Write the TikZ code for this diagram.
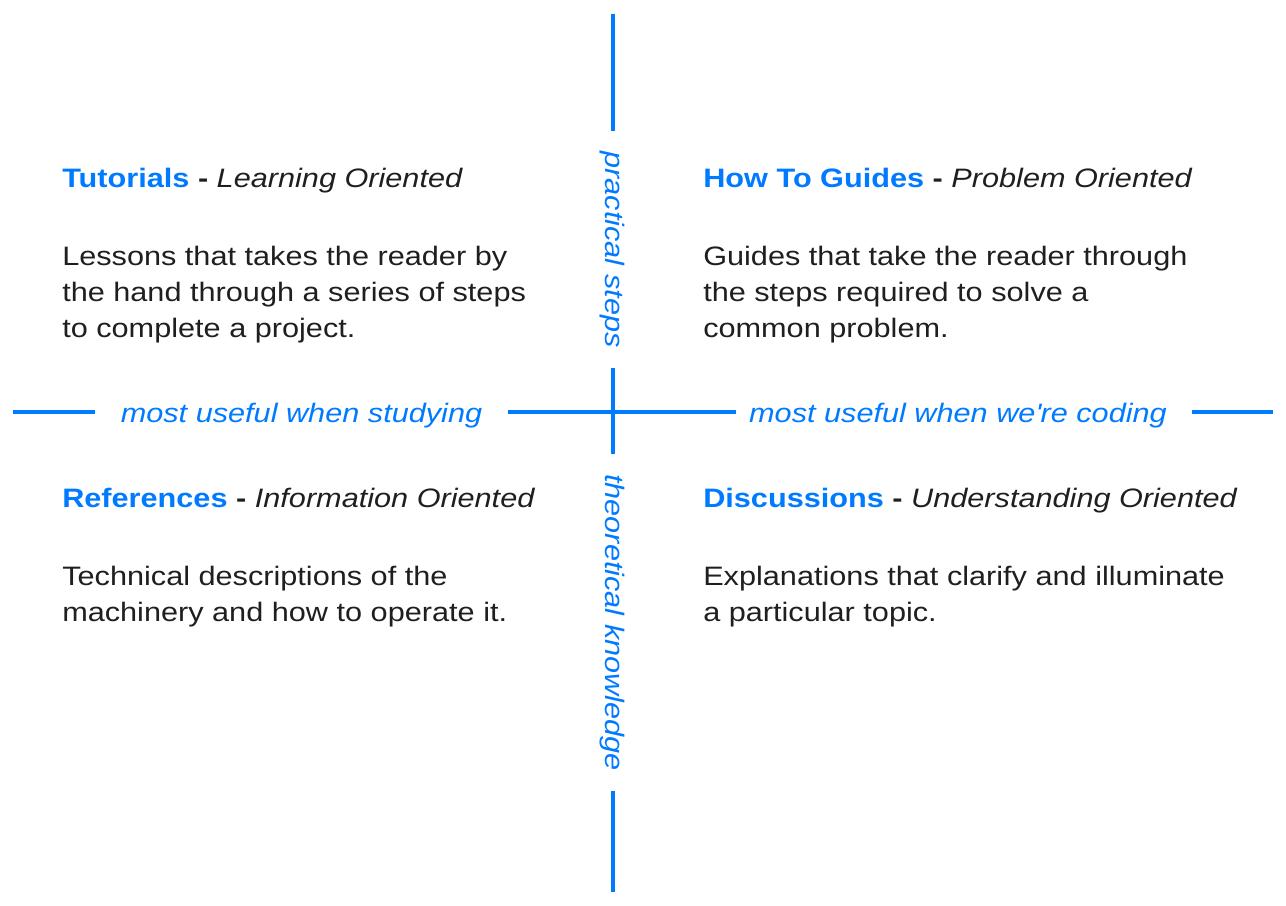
\documentclass[tikz,border=0pt]{standalone}
\usepackage{fontspec}
\setmainfont[FakeStretch=1.15]{Liberation Sans}
\usepackage{tikz}
\definecolor{docblue}{RGB}{0,122,255}
\definecolor{doctext}{RGB}{31,31,33}

\begin{document}
\begin{tikzpicture}[x=0.75pt,y=0.75pt,yscale=-1,xscale=1,
        axisline/.style={draw=docblue,line width=3pt},
        axislabel/.style={font=\fontsize{20}{27}\selectfont\itshape,text=docblue,inner ysep=0pt},
        hlabel/.style={axislabel,inner xsep=19pt,text height=20pt,text depth=4.5pt},
        vlabel/.style={axislabel,rotate=-90,inner xsep=15pt},
        heading/.style={font=\fontsize{20}{27}\selectfont,text=doctext,anchor=base west,inner sep=0pt},
        body/.style={font=\fontsize{20}{27}\selectfont,text=doctext,anchor=base west,align=left,inner sep=0pt}]
        \useasboundingbox (0,0) rectangle (1286,906);
        % Vertical axis
        \coordinate (vtop) at (612.5,14);
        \coordinate (vbot) at (612.5,892);
        \node[vlabel] (practical) at (612.5,249.5) {practical steps};
        \node[vlabel] (theoretical) at (612.5,622.5) {theoretical knowledge};
        \draw[axisline] (vtop) -- (practical);
        \draw[axisline] (practical) -- (theoretical);
        \draw[axisline] (theoretical) -- (vbot);
        % Horizontal axis
        \coordinate (hleft) at (13,412);
        \coordinate (hright) at (1273,412);
        \node[hlabel] (studying) at (301.5,412) {most useful when studying};
        \node[hlabel] (coding) at (958,412) {most useful when we{\textquotesingle}re coding};
        \draw[axisline] (hleft) -- (studying);
        \draw[axisline, shorten >=-9pt] (studying) -- (coding);
        \draw[axisline] (coding) -- (hright);
        % Top left (body anchored on its last baseline)
        \node[heading] (tutorials) at (62,187) {\textcolor{docblue}{\bfseries Tutorials} \textbf{-} \textit{Learning Oriented}};
        \node[body] (tutorialstext) at (62,337) {Lessons that takes the reader by\\the hand through a series of steps\\to complete a project.};
        % Top right
        \node[heading] (howto) at (703,187) {\textcolor{docblue}{\bfseries How To Guides} \textbf{-} \textit{Problem Oriented}};
        \node[body] (howtotext) at (703,337) {Guides that take the reader through\\the steps required to solve a\\common problem.};
        % Bottom left
        \node[heading] (references) at (62,507) {\textcolor{docblue}{\bfseries References} \textbf{-} \textit{Information Oriented}};
        \node[body] (referencestext) at (62,621) {Technical descriptions of the\\machinery and how to operate it.};
        % Bottom right
        \node[heading] (discussions) at (703,507) {\textcolor{docblue}{\bfseries Discussions} \textbf{-} \textit{Understanding Oriented}};
        \node[body] (discussionstext) at (703,621) {Explanations that clarify and illuminate\\a particular topic.};
\end{tikzpicture}
\end{document}
